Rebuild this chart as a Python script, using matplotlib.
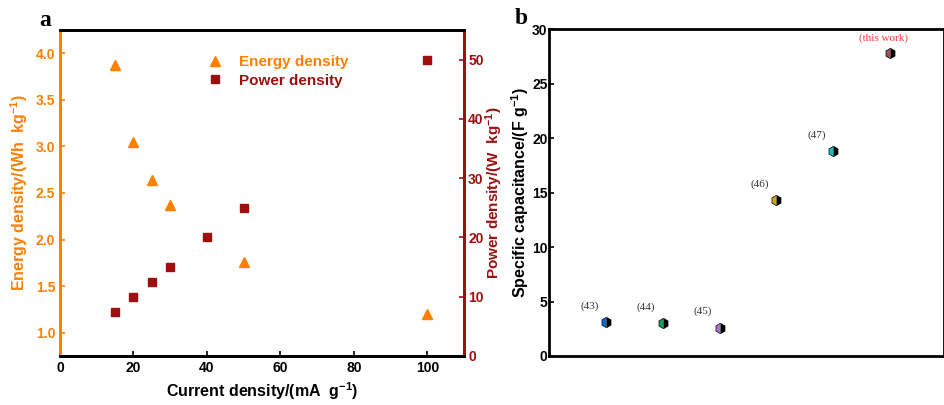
import matplotlib
matplotlib.use('Agg')
import matplotlib.pyplot as plt

plt.rcParams['font.family'] = ['Liberation Sans', 'DejaVu Sans']
plt.rcParams['mathtext.fontset'] = 'custom'
plt.rcParams['mathtext.bf'] = 'Liberation Sans:bold'
plt.rcParams['mathtext.rm'] = 'Liberation Sans:bold'
plt.rcParams['mathtext.default'] = 'bf'

# panel a data
current = [15, 20, 25, 30, 50, 100]
energy = [3.87, 3.05, 2.64, 2.37, 1.76, 1.20]
current_p = [15, 20, 25, 30, 40, 50, 100]
power = [7.5, 10, 12.5, 15, 20, 25, 50]

# panel b data
refs = ['(43)', '(44)', '(45)', '(46)', '(47)', '(this work)']
capacitance = [3.1, 3.0, 2.6, 14.3, 18.8, 27.8]
ref_colors = ['#1565d8', '#12a060', '#b070d8', '#e0a000', '#10c0c8', '#a05050']

ORANGE = '#ff8000'
DARKRED = '#9e1010'

fig = plt.figure(figsize=(9.45, 4.05), dpi=100)

# ---- panel a ----
ax = fig.add_axes([0.0635, 0.121, 0.4275, 0.805])
ax2 = ax.twinx()
l1, = ax.plot(current, energy, ls='none', marker='^', ms=7, color=ORANGE, label='Energy density')
l2, = ax2.plot(current_p, power, ls='none', marker='s', ms=6, color=DARKRED, label='Power density')

ax.set_xlim(0, 110)
ax.set_ylim(0.75, 4.25)
ax2.set_ylim(0, 55)
ax.set_xticks([0, 20, 40, 60, 80, 100])
ax.set_yticks([1.0, 1.5, 2.0, 2.5, 3.0, 3.5, 4.0])
ax2.set_yticks([0, 10, 20, 30, 40, 50])

ax.tick_params(axis='x', direction='in', labelsize=10, width=1.2)
ax.tick_params(axis='y', direction='in', labelsize=10, colors=ORANGE, width=1.2)
ax2.tick_params(axis='y', direction='in', labelsize=10, colors=DARKRED, width=1.2, pad=3)
for lab in ax.get_xticklabels() + ax.get_yticklabels() + ax2.get_yticklabels():
    lab.set_fontweight('bold')

for a in (ax, ax2):
    a.spines['top'].set_linewidth(2)
    a.spines['bottom'].set_linewidth(2)
    a.spines['left'].set_color(ORANGE)
    a.spines['right'].set_color(DARKRED)
    a.spines['left'].set_linewidth(2)
    a.spines['right'].set_linewidth(2)

ax.set_xlabel('Current density/(mA  g$^{-1}$)', fontsize=11.5, fontweight='bold', labelpad=4)
ax.set_ylabel('Energy density/(Wh  kg$^{-1}$)', fontsize=11.5, fontweight='bold', color=ORANGE, labelpad=4)
ax2.set_ylabel('Power density/(W  kg$^{-1}$)', fontsize=11, fontweight='bold', color=DARKRED, labelpad=0)

leg = ax.legend(handles=[l1, l2], loc='upper center', bbox_to_anchor=(0.53, 0.965), frameon=False,
                prop={'weight': 'bold', 'size': 11}, handletextpad=0.6, labelspacing=0.3)
for txt, col in zip(leg.get_texts(), [ORANGE, DARKRED]):
    txt.set_color(col)

fig.text(0.042, 0.95, 'a', fontsize=17, fontweight='bold', family='Liberation Serif', va='center')

# ---- panel b ----
bx = fig.add_axes([0.581, 0.121, 0.418, 0.807])
pos = list(range(1, len(refs) + 1))
for x, y, c, r in zip(pos, capacitance, ref_colors, refs):
    bx.plot([x], [y], ls='none', marker='h', ms=7.5, fillstyle='left', color=c,
            markerfacecoloralt='black', markeredgecolor='black', markeredgewidth=0.5)
    if r == '(this work)':
        tcol, dx, dy = '#ff3b3b', -5, 9
    else:
        tcol, dx, dy = '#333333', -12, 10
    bx.annotate(r, (x, y), xytext=(dx, dy), textcoords='offset points', ha='center',
                fontsize=8, family='Liberation Serif', color=tcol)

bx.set_xlim(0, 6.95)
bx.set_ylim(0, 30)
bx.set_xticks([])
bx.set_yticks([0, 5, 10, 15, 20, 25, 30])
bx.tick_params(axis='y', direction='in', labelsize=10, width=1.2, pad=1)
for lab in bx.get_yticklabels():
    lab.set_fontweight('bold')
for s in bx.spines.values():
    s.set_linewidth(2)
bx.set_ylabel('Specific capacitance/(F g$^{-1}$)', fontsize=11.5, fontweight='bold', labelpad=1)

fig.text(0.545, 0.955, 'b', fontsize=17, fontweight='bold', family='Liberation Serif', va='center')

fig.savefig('out.png', dpi=100)
